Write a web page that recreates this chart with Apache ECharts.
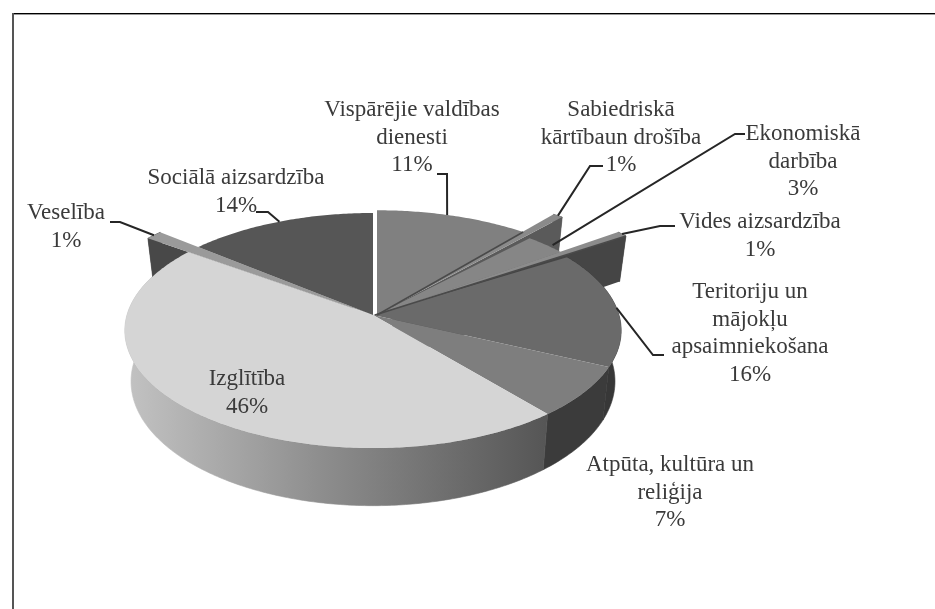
<!DOCTYPE html>
<html>
<head>
<meta charset="utf-8">
<style>html,body{margin:0;padding:0;background:#fff}#main{width:935px;height:609px}</style>
<script src="https://cdn.jsdelivr.net/npm/echarts@6/dist/echarts.min.js"></script>
</head>
<body>
<div id="main"></div>
<script>
var categories = ['Vispārējie valdības\ndienesti', 'Sabiedriskā\nkārtībaun drošība', 'Ekonomiskā\ndarbība',
  'Vides aizsardzība', 'Teritoriju un\nmājokļu\napsaimniekošana', 'Atpūta, kultūra un\nreliģija',
  'Izglītība', 'Veselība', 'Sociālā aizsardzība'];
var percents = [11, 1, 3, 1, 16, 7, 46, 1, 14];

// greys for top face and side wall of each slice
var topColors = ['#808080', '#8a8a8a', '#868686', '#8c8c8c', '#6a6a6a', '#7e7e7e', '#d5d5d5', '#9a9a9a', '#565656'];
var wallColors = ['#555555', '#5a5a5a', '#5c5c5c', '#454545', '#373737', '#3b3b3b', '#777777', '#484848', '#3c3c3c'];
// slices drawn further out than the rim, Excel style
var reach = [1.03, 1.28, 1, 1.35, 1, 1, 1, 1.24, 1];
var shiftX = [4, 3, 3, 2, 0, 0, 0, 0, 0];
// the long strips look thinner than their share in the original
var sweep = [1, 0.6, 1, 0.6, 1, 1, 1, 1, 1];

// label centre x, first line y, leader path
var labelPos = [[412, 110], [621, 110], [803, 134], [760, 222], [750, 292], [670, 465], [247, 379], [66, 213], [236, 178]];
var leaders = [
  [[437, 174], [447, 174]],
  [[603, 166], [590, 166]],
  [[745, 134], [735, 134]],
  [[675, 226], [660, 226]],
  [[664, 355], [653, 355]],
  null,
  null,
  [[110, 222], [120, 222]],
  [[256, 212], [268, 212]]
];
var leaderEnds = [0.46, 0.5, 0.62, 0.5, 0.5, 0, 0, 0.5, 0.5];

var cx = 373, cy = 315, rx = 246, ry = 115.5, persp = 0.132, depth = 50, lineHeight = 27.5;

// unit disc -> screen, with a bit of perspective so the near edge is bigger
function project(r, ang, h, dx) {
  var u = r * Math.sin(ang), v = -r * Math.cos(ang);
  var w = 1 - persp * v;
  var narrow = 1 - 0.025 * (h || 0) / depth;
  return [cx + (dx || 0) + narrow * rx * u / w, cy + (ry * v + (h || 0)) / w];
}
function toAng(p) { return p * 2 * Math.PI / 100; }
function arcPoints(a0, a1, r, h, dx) {
  var pts = [], n = Math.max(2, Math.ceil((a1 - a0) * 80));
  for (var i = 0; i <= n; i++) pts.push(project(r, a0 + (a1 - a0) * i / n, h, dx));
  return pts;
}

var starts = [];
percents.reduce(function (s, p, i) { starts[i] = s; return s + p; }, 0);

function wallFill(i) {
  if (i !== 6) return wallColors[i];
  return new echarts.graphic.LinearGradient(128, 0, 553, 0, [
    {offset: 0, color: '#c2c2c2'}, {offset: 0.45, color: '#8e8e8e'}, {offset: 1, color: '#545454'}
  ], true);
}

function renderSlice(params, api) {
  var i = params.dataIndex;
  var a0 = toAng(starts[i]), a1 = toAng(starts[i] + api.value(0) * sweep[i]);
  var r = reach[i], dx = shiftX[i], kids = [];
  var mid = (a0 + a1) / 2;

  // outer wall, back slices have none that shows
  if (r > 1.1 || Math.cos(mid) < 0.3) {
    var rimTop = arcPoints(a0, a1, r, 0, dx), rimBot = arcPoints(a0, a1, r, depth, dx);
    kids.push({type: 'polygon', z2: 1, shape: {points: rimTop.concat(rimBot.reverse())},
      style: {fill: wallFill(i), stroke: wallFill(i), lineWidth: 0.6}});
  }

  // thin slices that stick out show their cut face
  if (r > 1.1) {
    var edgeA = i === 7 ? a0 : a1;
    var inner = project(0.1, edgeA, 0, dx), outer = project(r, edgeA, 0, dx);
    kids.push({type: 'polygon', z2: 1, shape: {points: [inner, outer, project(r, edgeA, depth, dx), project(0.1, edgeA, depth, dx)]},
      style: {fill: wallColors[i]}});
  }

  // top face
  var face = [project(0, 0, 0, dx)].concat(arcPoints(a0, a1, r, 0, dx));
  kids.push({type: 'polygon', z2: r > 1.1 ? 2 : 3, shape: {points: face}, style: {fill: topColors[i]}});

  // dark seam on the right edge of the top slices
  if (i === 0 || i === 3) {
    kids.push({type: 'line', z2: 4, shape: {
      x1: project(0, 0, 0, dx)[0], y1: project(0, 0, 0, dx)[1],
      x2: project(r, a1, 0, dx)[0], y2: project(r, a1, 0, dx)[1]
    }, style: {stroke: '#4a4a4a', lineWidth: 1.6}});
  }

  // leader line
  if (leaders[i]) {
    var end = a0 + (a1 - a0) * leaderEnds[i];
    kids.push({type: 'polyline', z2: 5, shape: {points: leaders[i].concat([project(i === 2 ? 1.02 : r, end, 0, dx)])},
      style: {stroke: '#262626', lineWidth: 2, fill: null}});
  }

  // label
  kids.push({type: 'text', z2: 6, style: {
    x: labelPos[i][0], y: labelPos[i][1] - lineHeight / 2,
    text: categories[i] + '\n' + api.value(0) + '%',
    font: '23px "Liberation Serif"', fill: '#3a3a3a', align: 'center', verticalAlign: 'top', lineHeight: lineHeight
  }});
  return {type: 'group', children: kids};
}

var chart = echarts.init(document.getElementById('main'), null, {renderer: 'canvas'});
chart.setOption({
  animation: false,
  backgroundColor: '#ffffff',
  graphic: [
    {type: 'line', shape: {x1: 13, y1: 13.5, x2: 935, y2: 13.5}, style: {stroke: '#000', lineWidth: 1}},
    {type: 'line', shape: {x1: 13, y1: 14.5, x2: 935, y2: 14.5}, style: {stroke: '#999', lineWidth: 1}},
    {type: 'line', shape: {x1: 13, y1: 13, x2: 13, y2: 609}, style: {stroke: '#555', lineWidth: 2}}
  ],
  series: [{
    type: 'custom',
    coordinateSystem: 'none',
    renderItem: renderSlice,
    data: percents.map(function (p) { return [p]; })
  }]
});
</script>
</body>
</html>
